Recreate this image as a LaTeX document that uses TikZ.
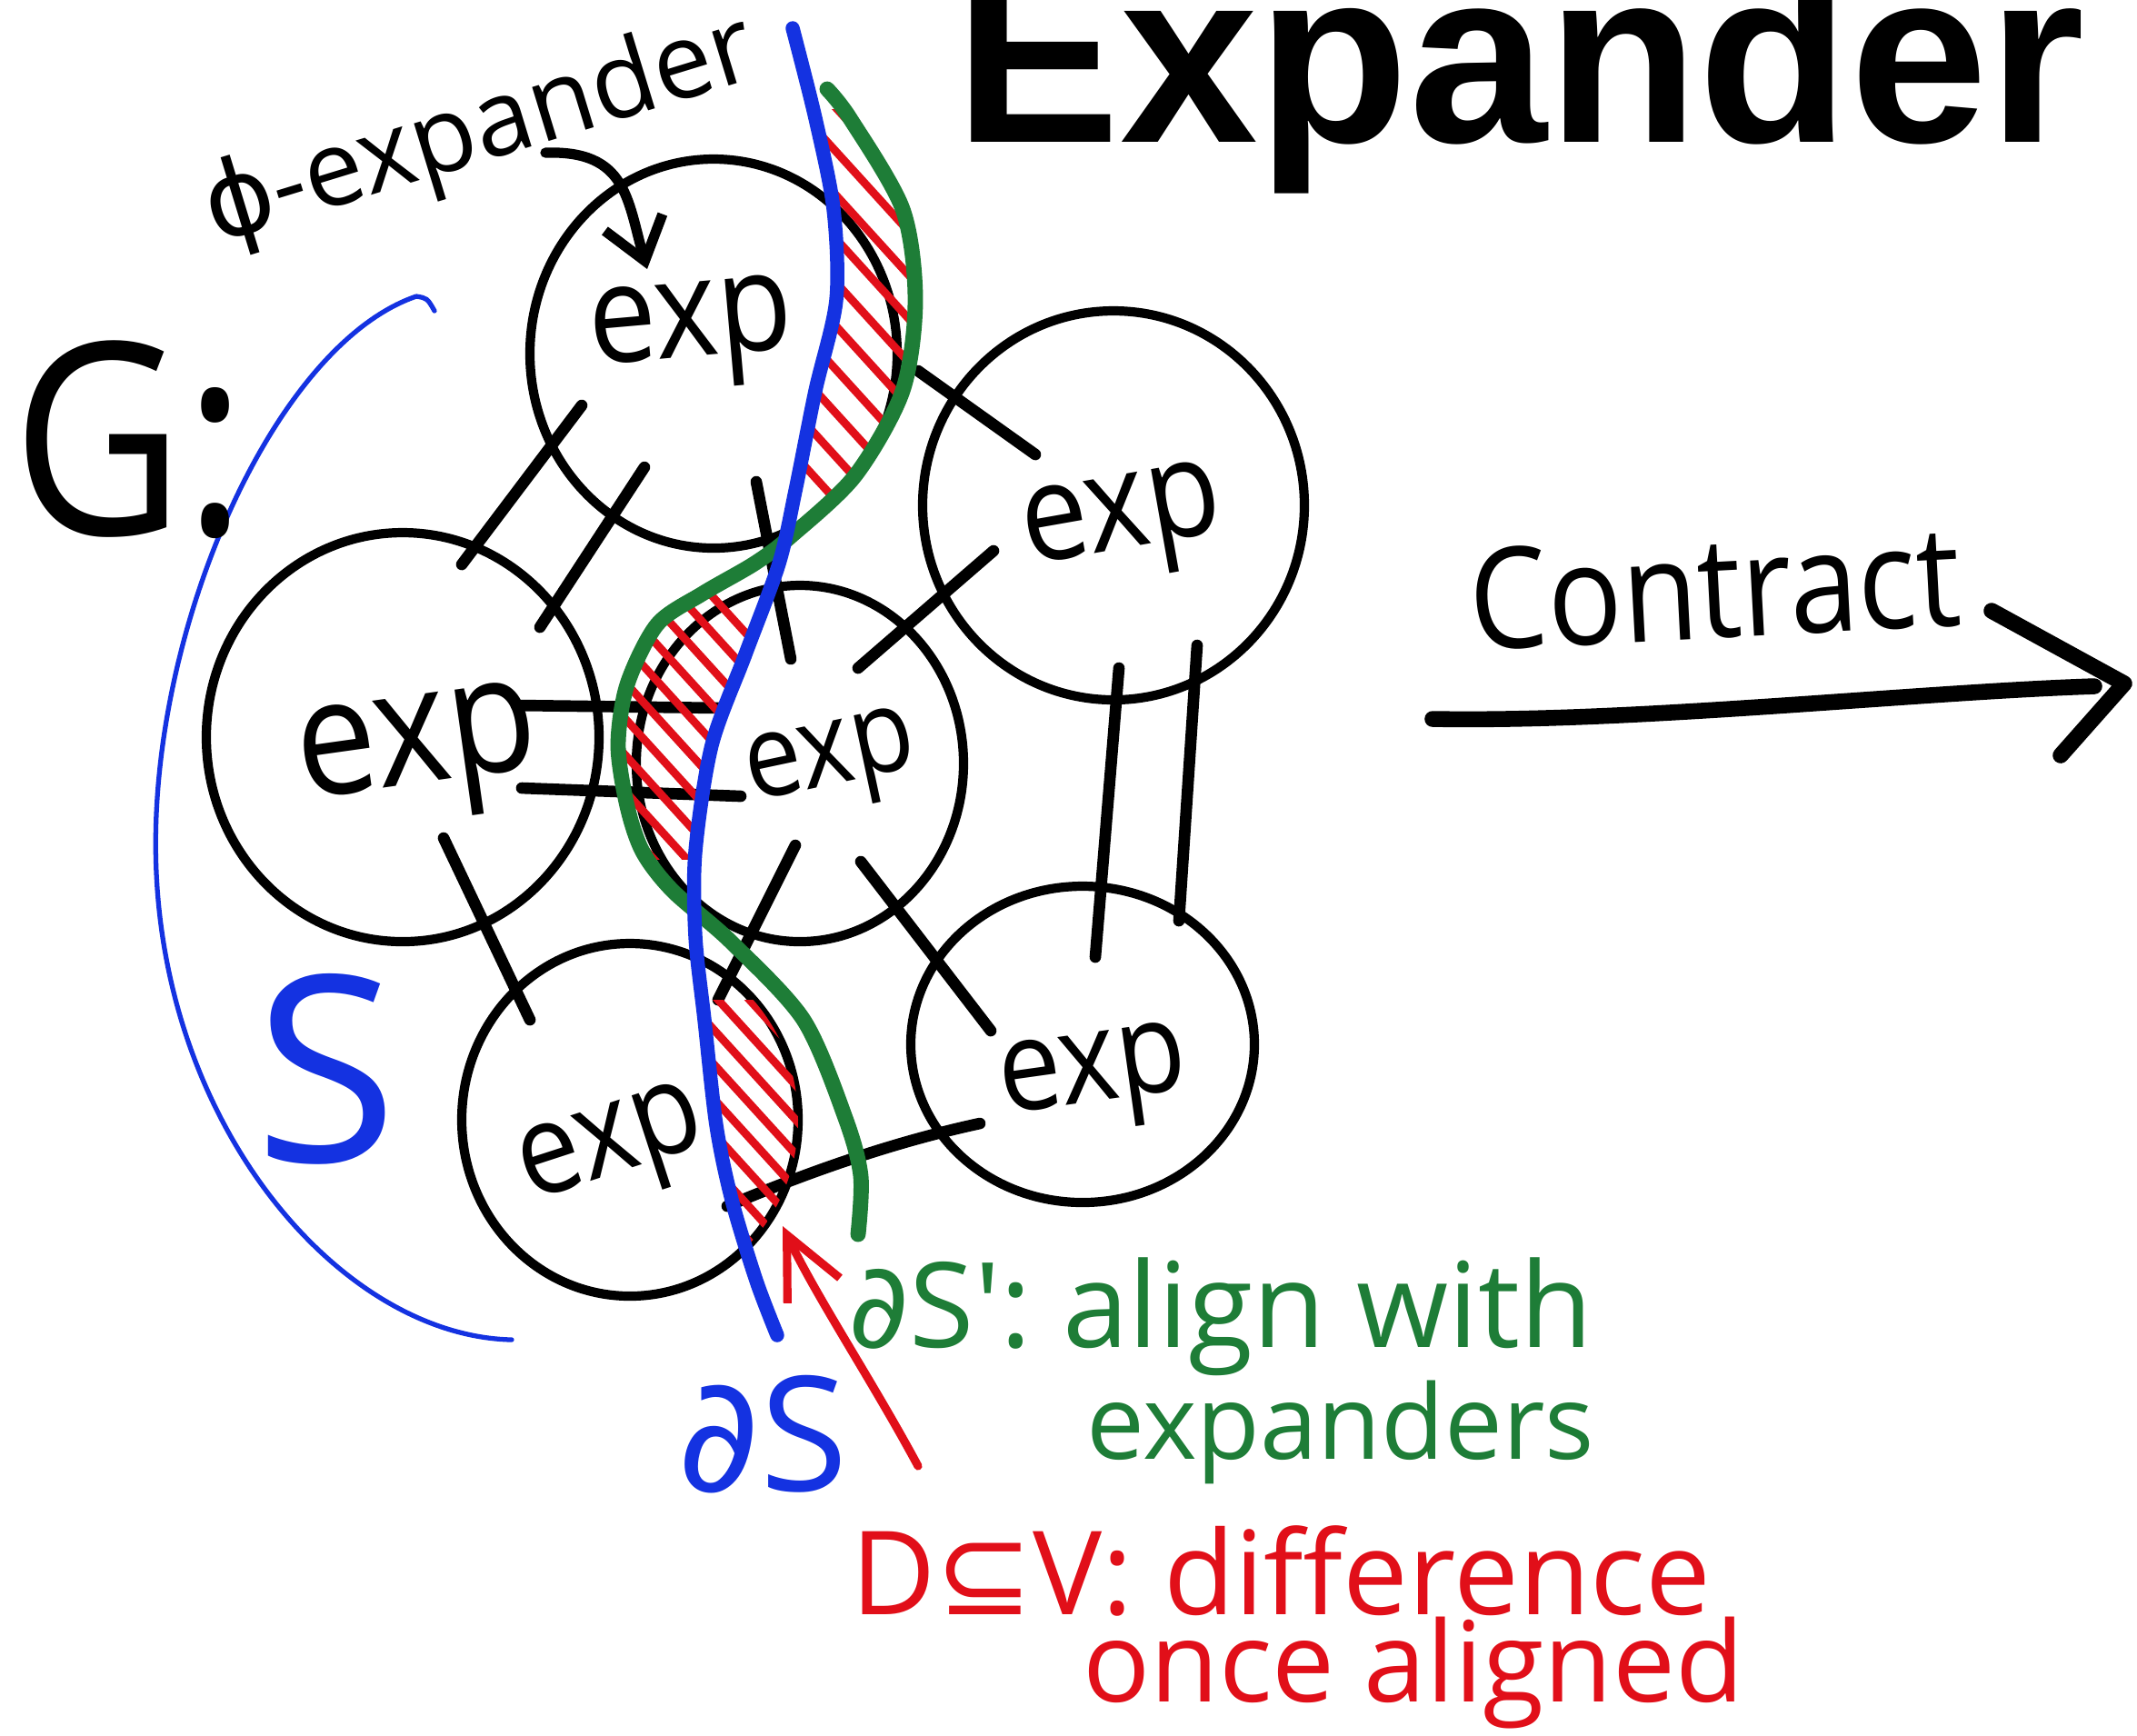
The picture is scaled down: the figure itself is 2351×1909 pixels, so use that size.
\documentclass[tikz,border=0pt]{standalone}
\usepackage{fontspec}
\usetikzlibrary{arrows.meta,shapes.geometric}
\setmainfont{Open Sans}
\newfontfamily\hand{Open Sans}[FakeStretch=0.88]
\newfontfamily\handw{Open Sans}
\newfontfamily\glyphs{DejaVu Sans}
\newfontfamily\headfont{Liberation Sans}
\definecolor{penblue}{RGB}{20,50,225}
\definecolor{pengreen}{RGB}{30,125,55}
\definecolor{penred}{RGB}{225,15,25}
\newcommand\fsz[1]{\fontsize{#1}{#1}\selectfont}

\begin{document}
\begin{tikzpicture}[x=0.05mm, y=-0.05mm, line cap=round, line join=round,
  expnode/.style={draw, ellipse, line width=1.45pt, inner sep=0pt},
  explabel/.style={inner sep=0pt, anchor=base west},
  link/.style={line width=1.8pt},
  hatch/.style={penred, line width=1.25pt},
  txt/.style={inner sep=0pt, anchor=base west}]
\fill[white] (0,0) rectangle (2351,1909);
\useasboundingbox (0,0) rectangle (2351,1909);

% title
\node[txt, font=\headfont\bfseries\fsz{38.8pt}] (title) at (1049,156) {Expander};

% expander clusters
\node[expnode, minimum width=20.2mm, minimum height=21.4mm] (c1) at (785,389) {};
\node[expnode, minimum width=21.6mm, minimum height=22.5mm] (c2) at (443,811) {};
\node[expnode, minimum width=18mm,   minimum height=19.6mm] (c3) at (880,840) {};
\node[expnode, minimum width=21mm,   minimum height=21.4mm] (c4) at (1225,556) {};
\node[expnode, minimum width=18.9mm, minimum height=17.4mm] (c5) at (1191,1149) {};
\node[expnode, minimum width=18.5mm, minimum height=19.4mm] (c6) at (693,1232) {};

% edge ends between the clusters
\coordinate (a1) at (640,446);  \coordinate (b1) at (508,621);
\coordinate (a2) at (709,514);  \coordinate (b2) at (594,690);
\coordinate (a3) at (568,776);  \coordinate (b3) at (796,779);
\coordinate (a4) at (574,867);  \coordinate (b4) at (815,876);
\coordinate (a5) at (488,922);  \coordinate (b5) at (583,1122);
\coordinate (a6) at (832,530);  \coordinate (b6) at (870,725);
\coordinate (a7) at (1010,408); \coordinate (b7) at (1139,500);
\coordinate (a8) at (944,735);  \coordinate (b8) at (1093,606);
\coordinate (a9) at (1231,735); \coordinate (b9) at (1205,1053);
\coordinate (a10) at (1317,710); \coordinate (b10) at (1297,1013);
\coordinate (a11) at (875,930); \coordinate (b11) at (790,1100);
\coordinate (a12) at (947,948); \coordinate (b12) at (1090,1134);
\coordinate (a13) at (800,1327); \coordinate (b13) at (1078,1236);

\draw[link] (a1) -- (b1);
\draw[link] (a2) -- (b2);
\draw[link] (a3) -- (b3);
\draw[link] (a4) -- (b4);
\draw[link] (a5) -- (b5);
\draw[link] (a6) -- (b6);
\draw[link] (a7) -- (b7);
\draw[link] (a8) -- (b8);
\draw[link] (a9) -- (b9);
\draw[link] (a10) -- (b10);
\draw[link] (a11) -- (b11);
\draw[link] (a12) -- (b12);
\draw[link] (a13) .. controls (900,1285) and (990,1255) .. (b13);

% hatched difference D between the two cuts
\begin{scope}
  \clip (870,120) rectangle (1040,560);
  \clip plot[smooth] coordinates {(872,31) (897,130) (917,230) (920,330) (897,430) (875,540) (857,620) (820,720) (783,820) (765,937) (765,1030) (775,1122) (788,1238) (805,1320) (832,1409) (855,1469)}
     -- plot[smooth] coordinates {(944,1358) (947,1294) (930,1230) (884,1122) (804,1036) (740,980) (707,937) (690,887) (680,820) (690,753) (723,687) (773,653) (830,620) (870,590) (941,523) (993,430) (1007,330) (993,230) (935,130) (910,98)} -- cycle;
  \foreach \k in {0,...,9} \draw[hatch] (930,{130+48*\k}) ++(-120,-132) -- ++(240,264);
\end{scope}
\begin{scope}
  \clip (660,630) rectangle (880,945);
  \clip plot[smooth] coordinates {(872,31) (897,130) (917,230) (920,330) (897,430) (875,540) (857,620) (820,720) (783,820) (765,937) (765,1030) (775,1122) (788,1238) (805,1320) (832,1409) (855,1469)}
     -- plot[smooth] coordinates {(944,1358) (947,1294) (930,1230) (884,1122) (804,1036) (740,980) (707,937) (690,887) (680,820) (690,753) (723,687) (773,653) (830,620) (870,590) (941,523) (993,430) (1007,330) (993,230) (935,130) (910,98)} -- cycle;
  \foreach \k in {0,...,9} \draw[hatch] (760,{630+40*\k}) ++(-150,-165) -- ++(300,330);
\end{scope}
\begin{scope}
  \clip (740,1100) rectangle (900,1420);
  \clip (693,1232) ellipse [x radius=185, y radius=194];
  \clip plot[smooth] coordinates {(872,31) (897,130) (917,230) (920,330) (897,430) (875,540) (857,620) (820,720) (783,820) (765,937) (765,1030) (775,1122) (788,1238) (805,1320) (832,1409) (855,1469)}
     -- plot[smooth] coordinates {(944,1358) (947,1294) (930,1230) (884,1122) (804,1036) (740,980) (707,937) (690,887) (680,820) (690,753) (723,687) (773,653) (830,620) (870,590) (941,523) (993,430) (1007,330) (993,230) (935,130) (910,98)} -- cycle;
  \foreach \k in {0,...,9} \draw[hatch] (820,{1095+38*\k}) ++(-120,-132) -- ++(240,264);
\end{scope}

% aligned cut dS' (green) and cut dS (blue)
\draw[pengreen, line width=2.4pt] plot[smooth] coordinates {(910,98) (935,130) (993,230) (1007,330) (993,430) (941,523) (870,590) (830,620) (773,653) (723,687) (690,753) (680,820) (690,887) (707,937) (740,980) (804,1036) (884,1122) (930,1230) (947,1294) (944,1358)};
\draw[penblue, line width=2.2pt] plot[smooth] coordinates {(872,31) (897,130) (917,230) (920,330) (897,430) (875,540) (857,620) (820,720) (783,820) (765,937) (765,1030) (775,1122) (788,1238) (805,1320) (832,1409) (855,1469)};

% set S
\draw[penblue, line width=0.75pt] (478,342) .. controls (470,328) .. (458,326)
   .. controls (300,380) and (160,700) .. (172,960)
   .. controls (185,1250) and (380,1470) .. (563,1474);

% cluster labels
\node[explabel, font=\hand\fsz{21.6pt}, rotate=5]  (t1) at (650,402)  {exp};
\node[explabel, font=\hand\fsz{25.6pt}, rotate=8]  (t2) at (332,880)  {exp};
\node[explabel, font=\hand\fsz{18.2pt}, rotate=12] (t3) at (826,882)  {exp};
\node[explabel, font=\hand\fsz{21.3pt}, rotate=10] (t4) at (1130,622) {exp};
\node[explabel, font=\hand\fsz{20pt},   rotate=8]  (t5) at (1103,1226) {exp};
\node[explabel, font=\hand\fsz{20pt},   rotate=18] (t6) at (582,1322) {exp};

% annotations
\node[txt, font=\hand\fsz{42pt}] (g) at (12,588) {G:};
\node[txt, font=\handw\fsz{40.7pt}, text=penblue] (s) at (279,1278) {S};
\node[txt, font=\handw\fsz{16.5pt}, rotate=17] (phi) at (236,268) {{\glyphs ϕ}-expander};
\coordinate (phiTail) at (600,168);
\coordinate (phiHead) at (712,296);
\draw[line width=1.6pt, -{Straight Barb[length=2.2mm,width=3.3mm]}] (phiTail) .. controls (690,165) and (690,220) .. (phiHead);

\node[txt, font=\handw\fsz{25pt}, text=penblue] (ds) at (744,1640) {{\glyphs ∂}S};
\node[txt, font=\handw\fsz{18.5pt}, text=pengreen] (dsp1) at (932,1482) {{\glyphs ∂}S': align with};
\node[txt, font=\handw\fsz{16.2pt}, text=pengreen] (dsp2) at (1194,1605) {expanders};
\node[txt, font=\handw\fsz{18.2pt}, text=penred] (d1) at (935,1776) {D{\glyphs ⊆}V: difference};
\node[txt, font=\handw\fsz{17.5pt}, text=penred] (d2) at (1190,1872) {once aligned};

\coordinate (dTail) at (1010,1613);
\coordinate (dHead) at (861,1349);
\draw[penred, line width=1.3pt, -{Straight Barb[length=3.4mm,width=3.2mm]}] (dTail) .. controls (960,1520) and (900,1430) .. (dHead);

% contraction step
\node[txt, font=\hand\fsz{22pt}, rotate=3] (contract) at (1618,716) {Contract};
\coordinate (arrTail) at (1576,791);
\coordinate (arrTip) at (2337,752);
\coordinate (barbUp) at (2191,672);
\coordinate (barbDown) at (2267,831);
\draw[line width=2.5pt] (arrTail) .. controls (1800,795) and (2100,762) .. (2304,755);
\draw[line width=2.5pt] (barbUp) -- (arrTip) -- (barbDown);
\end{tikzpicture}
\end{document}
